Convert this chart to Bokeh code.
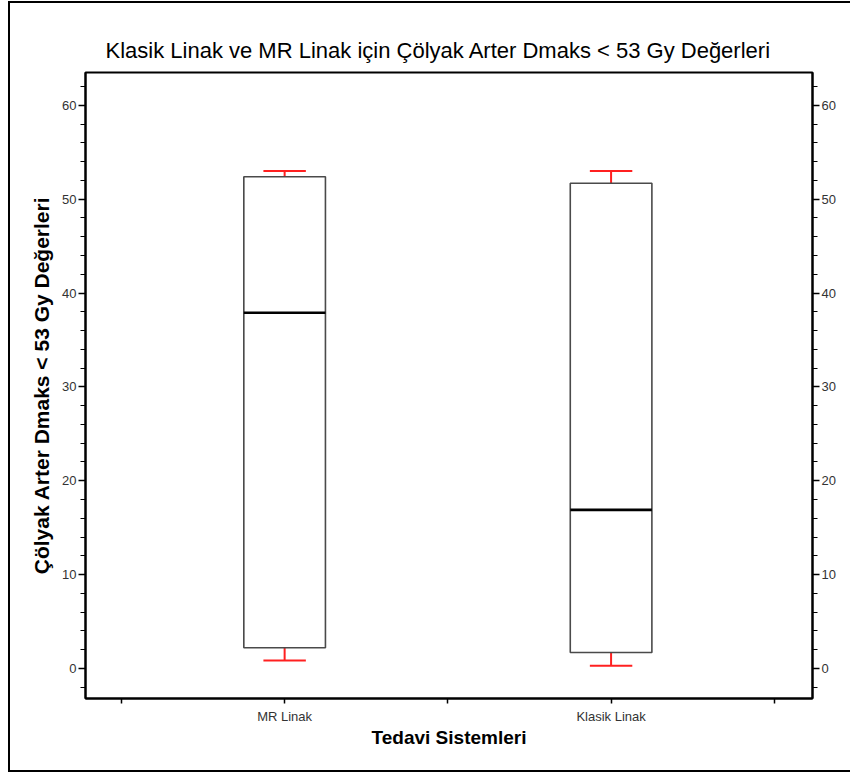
from bokeh.plotting import figure
from bokeh.models import LinearAxis, FixedTicker, Range1d, InlineStyleSheet
from bokeh.embed import file_html
from bokeh.resources import INLINE

# Data
categories = ["MR Linak", "Klasik Linak"]
positions = [1, 2]
whisker_low = [0.85, 0.3]
q1 = [2.2, 1.7]
median = [37.9, 16.9]
q3 = [52.4, 51.7]
whisker_high = [53.0, 53.0]

title_text = "Klasik Linak ve MR Linak için Çölyak Arter Dmaks < 53 Gy Değerleri"
x_label = "Tedavi Sistemleri"
y_label = "Çölyak Arter Dmaks < 53 Gy Değerleri"
y_ticks = [0, 10, 20, 30, 40, 50, 60]

FONT = "Liberation Sans"

p = figure(width=850, height=776, output_backend="svg", toolbar_location=None,
           x_range=Range1d(0.39, 2.617), y_range=Range1d(-3.2, 63.5),
           min_border_left=85, min_border_right=38, min_border_top=72, min_border_bottom=78,
           y_axis_location="left")
p.grid.visible = False
p.outline_line_color = "black"
p.outline_line_width = 2
p.background_fill_color = "white"
p.border_fill_color = "white"

p.title.text = title_text
p.title.text_font = FONT
p.title.text_font_size = "22px"
p.title.text_font_style = "normal"
p.title.text_color = "black"
p.title.align = "left"
p.title.offset = 20
p.title.standoff = 20

bw = 0.25
cw = 0.13
left = [x - bw / 2 for x in positions]
right = [x + bw / 2 for x in positions]

# whiskers
p.segment(x0=positions, y0=q3, x1=positions, y1=whisker_high, line_color="#ff2020", line_width=2)
p.segment(x0=positions, y0=whisker_low, x1=positions, y1=q1, line_color="#ff2020", line_width=2)
p.segment(x0=[x - cw / 2 for x in positions], y0=whisker_high,
          x1=[x + cw / 2 for x in positions], y1=whisker_high, line_color="#ff2020", line_width=2)
p.segment(x0=[x - cw / 2 for x in positions], y0=whisker_low,
          x1=[x + cw / 2 for x in positions], y1=whisker_low, line_color="#ff2020", line_width=2)
# boxes
p.quad(left=left, right=right, bottom=q1, top=q3, fill_color="white",
       line_color="#4a4a4a", line_width=1.6)
# medians
p.segment(x0=left, y0=median, x1=right, y1=median, line_color="black", line_width=2.6)

# x axis
xa = p.xaxis[0]
xa.ticker = FixedTicker(ticks=[0.5, 1, 1.5, 2, 2.5])
xa.major_label_overrides = {0.5: "", 1: categories[0], 1.5: "", 2: categories[1], 2.5: ""}
xa.minor_tick_line_color = None
xa.major_tick_out = 5
xa.major_tick_in = 0
xa.axis_line_width = 2
xa.major_tick_line_width = 1.5
xa.major_label_text_font = FONT
xa.major_label_text_font_size = "13px"
xa.major_label_text_color = "#333333"
xa.major_label_standoff = 5
xa.axis_label = x_label
xa.axis_label_text_font = FONT
xa.axis_label_text_font_size = "19px"
xa.axis_label_text_font_style = "bold"
xa.axis_label_text_color = "black"
xa.axis_label_standoff = 0

def style_y(ax):
    ax.ticker = FixedTicker(ticks=y_ticks, minor_ticks=list(range(-2, 64, 2)))
    ax.axis_line_width = 2
    ax.major_tick_out = 7
    ax.major_tick_in = 0
    ax.minor_tick_out = 5
    ax.minor_tick_in = 0
    ax.major_tick_line_width = 1.5
    ax.minor_tick_line_width = 1.2
    ax.major_label_text_font = FONT
    ax.major_label_text_font_size = "13px"
    ax.major_label_text_color = "#333333"
    ax.major_label_standoff = 2

ya = p.yaxis[0]
style_y(ya)
ya.axis_label = y_label
ya.axis_label_text_font = FONT
ya.axis_label_text_font_size = "21px"
ya.axis_label_text_font_style = "bold"
ya.axis_label_text_color = "black"
ya.axis_label_standoff = 6

yr = LinearAxis()
style_y(yr)
p.add_layout(yr, "right")

# outer border of the picture
p.stylesheets = [InlineStyleSheet(css=":host { position: relative; } "
                                  ":host::after { content: ''; position: absolute; left: 8px; top: 1px; "
                                  "width: 900px; height: 771px; border: 2px solid black; "
                                  "pointer-events: none; box-sizing: border-box; }")]

open("out.html", "w").write(file_html(p, INLINE))
